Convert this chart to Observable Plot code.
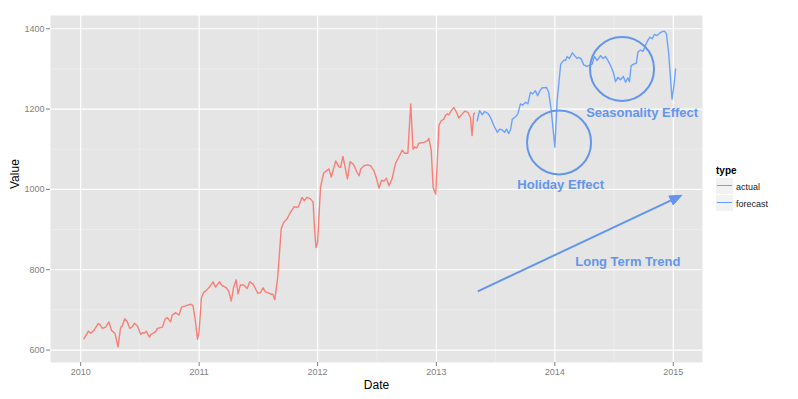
<!DOCTYPE html>
<html>
<head>
<meta charset="utf-8">
<script src="https://cdn.jsdelivr.net/npm/d3@7"></script>
<script src="https://cdn.jsdelivr.net/npm/@observablehq/plot@0.6"></script>
<style>
  html, body { margin: 0; padding: 0; background: #fff; }
  body { font-family: "Liberation Sans", Arial, sans-serif; }
  #wrap { position: relative; width: 798px; height: 399px; overflow: hidden; }
  #legend { position: absolute; left: 716px; top: 163px; font-family: "Liberation Sans", Arial, sans-serif; }
  #legend .title { font-weight: bold; font-size: 10px; color: #000; height: 15px; line-height: 15px; }
  #legend .row { display: flex; align-items: center; height: 17px; }
  #legend .key { width: 17px; height: 16px; background: #F2F2F2; position: relative; margin-right: 3px; border-bottom: 1px solid #fff; }
  #legend .key span { position: absolute; left: 1px; right: 1px; top: 7px; height: 1.4px; }
  #legend .lab { font-size: 9px; color: #1a1a1a; }
</style>
</head>
<body>
<div id="wrap"></div>
<script>
// ---------------- data ----------------
const actualDates = [
  "2010-01-11","2010-01-25","2010-02-01","2010-02-11","2010-02-24","2010-03-01","2010-03-09","2010-03-19",
  "2010-03-29","2010-04-06","2010-04-17","2010-04-26","2010-05-04","2010-05-09","2010-05-17","2010-05-25",
  "2010-06-01","2010-06-09","2010-06-16","2010-06-25","2010-07-05","2010-07-10","2010-07-17","2010-07-22",
  "2010-07-27","2010-08-01","2010-08-05","2010-08-13","2010-08-20","2010-08-25","2010-09-04","2010-09-10",
  "2010-09-18","2010-09-25","2010-10-05","2010-10-10","2010-10-21","2010-10-31","2010-11-08","2010-11-20",
  "2010-12-06","2010-12-13","2010-12-19","2010-12-27","2011-01-01","2011-01-08","2011-01-15","2011-01-26",
  "2011-02-05","2011-02-13","2011-02-20","2011-03-05","2011-03-12","2011-03-26","2011-04-02","2011-04-10",
  "2011-04-17","2011-04-25","2011-05-01","2011-05-08","2011-05-18","2011-05-29","2011-06-06","2011-06-16",
  "2011-06-23","2011-07-01","2011-07-09","2011-07-17","2011-07-24","2011-08-01","2011-08-10","2011-08-16",
  "2011-08-22","2011-08-31","2011-09-11","2011-09-18","2011-09-29","2011-10-09","2011-10-21","2011-10-27",
  "2011-11-03","2011-11-14","2011-11-21","2011-11-29","2011-12-09","2011-12-18","2011-12-23","2011-12-27",
  "2012-01-01","2012-01-10","2012-01-20","2012-02-05","2012-02-12","2012-02-26","2012-03-07","2012-03-12",
  "2012-03-19","2012-04-02","2012-04-10","2012-04-20","2012-05-02","2012-05-08","2012-05-13","2012-05-23",
  "2012-06-02","2012-06-12","2012-06-23","2012-07-01","2012-07-08","2012-07-16","2012-07-23","2012-07-31",
  "2012-08-08","2012-08-18","2012-08-28","2012-09-07","2012-09-18","2012-09-25","2012-10-05","2012-10-14",
  "2012-10-21","2012-10-26","2012-11-01","2012-11-08","2012-11-23","2012-12-04","2012-12-09","2012-12-16",
  "2012-12-22","2012-12-30","2013-01-09","2013-01-16","2013-01-24","2013-01-29","2013-02-04","2013-02-08",
  "2013-02-16","2013-02-24","2013-03-04","2013-03-11","2013-03-22","2013-03-30","2013-04-08","2013-04-16",
  "2013-04-21","2013-04-26","2013-04-29"
];
const actualValues = [
  628,647,642,649,666,664,654,657,
  670,649,641,608,656,660,678,670,
  654,658,667,660,639,643,642,647,
  639,632,639,642,646,654,656,657,
  677,681,670,687,693,687,707,710,
  714,711,681,627,647,730,743,751,
  760,770,757,770,761,755,747,722,
  755,775,740,762,762,753,770,764,
  754,741,743,755,745,743,739,739,
  725,780,902,917,927,942,957,955,
  957,980,972,980,977,969,897,855,
  868,1006,1041,1051,1031,1071,1056,1055,
  1082,1026,1069,1063,1042,1034,1051,1059,
  1061,1059,1046,1026,1003,1023,1020,1028,
  1009,1028,1065,1080,1098,1090,1090,1213,
  1100,1106,1103,1115,1117,1121,1127,1098,
  1005,988,1160,1171,1175,1184,1188,1185,
  1196,1204,1192,1178,1188,1195,1192,1179,
  1134,1188,1190
];
const forecastDates = [
  "2013-05-07","2013-05-14","2013-05-22","2013-05-30","2013-06-09","2013-06-17","2013-06-27","2013-07-08",
  "2013-07-15","2013-07-23","2013-07-30","2013-08-05","2013-08-12","2013-08-18","2013-08-23","2013-09-02",
  "2013-09-09","2013-09-17","2013-09-24","2013-10-03","2013-10-10","2013-10-18","2013-10-25","2013-11-02",
  "2013-11-09","2013-11-16","2013-11-23","2013-11-30","2013-12-06","2013-12-13","2013-12-21","2014-01-01",
  "2014-01-08","2014-01-19","2014-01-29","2014-02-03","2014-02-08","2014-02-15","2014-02-24","2014-03-03",
  "2014-03-11","2014-03-16","2014-03-23","2014-03-31","2014-04-11","2014-04-19","2014-04-26","2014-05-03",
  "2014-05-11","2014-05-22","2014-05-30","2014-06-06","2014-06-13","2014-06-22","2014-06-30","2014-07-07",
  "2014-07-14","2014-07-22","2014-07-31","2014-08-07","2014-08-14","2014-08-19","2014-08-24","2014-09-01",
  "2014-09-09","2014-09-14","2014-09-22","2014-09-30","2014-10-07","2014-10-13","2014-10-21","2014-10-28",
  "2014-11-04","2014-11-12","2014-11-20","2014-11-28","2014-12-05","2014-12-11","2014-12-18","2014-12-28",
  "2015-01-03","2015-01-08"
];
const forecastValues = [
  1171,1196,1186,1194,1189,1179,1159,1142,
  1150,1148,1142,1150,1139,1150,1175,1181,
  1188,1213,1210,1217,1213,1242,1238,1246,
  1233,1246,1253,1253,1254,1242,1196,1105,
  1220,1312,1322,1321,1331,1326,1340,1333,
  1326,1329,1325,1310,1306,1310,1312,1331,
  1321,1333,1326,1331,1322,1308,1292,1268,
  1279,1273,1281,1267,1278,1268,1308,1312,
  1314,1342,1347,1344,1358,1369,1379,1375,
  1386,1383,1389,1393,1394,1387,1337,1225,
  1258,1300
];
const types = ["actual", "forecast"];
const typeColors = ["#F8766D", "#619CFF"];

const xTickLabels = ["2010", "2011", "2012", "2013", "2014", "2015"];
const xMinorDates = ["2010-07-02", "2011-07-02", "2012-07-02", "2013-07-02", "2014-07-02"];
const yTicks = [600, 800, 1000, 1200, 1400];
const yMinor = [700, 900, 1100, 1300];

// annotations
const circleDates = ["2014-01-14", "2014-07-27"];
const circleValues = [1117, 1300];
const noteLabels = ["Holiday Effect", "Seasonality Effect", "Long Term Trend"];
const noteDates = ["2014-01-19", "2014-09-27", "2014-08-14"];
const noteValues = [1011, 1190, 820];
const trendFrom = { date: "2013-05-10", value: 745 };
const trendTo = { date: "2015-01-29", value: 984 };
const xDomain = ["2009-09-30", "2015-04-01"];
const yDomain = [569, 1433];

// ---------------- build ----------------
const parse = d3.utcParse("%Y-%m-%d");
const data = [
  ...actualDates.map((d, i) => ({ date: parse(d), value: actualValues[i], type: types[0] })),
  ...forecastDates.map((d, i) => ({ date: parse(d), value: forecastValues[i], type: types[1] }))
];
const yearDates = xTickLabels.map(y => parse(y + "-01-01"));
const minorDates = xMinorDates.map(parse);
const circles = circleDates.map((d, i) => ({ date: parse(d), value: circleValues[i] }));
const notes = noteLabels.map((t, i) => ({ label: t, date: parse(noteDates[i]), value: noteValues[i] }));
const annColor = "#6495ED";
const fontFam = "Liberation Sans, Arial, sans-serif";

function trendArrow(index, scales) {
  const x1 = scales.x(parse(trendFrom.date)), y1 = scales.y(trendFrom.value);
  const x2 = scales.x(parse(trendTo.date)), y2 = scales.y(trendTo.value);
  const dx = x2 - x1, dy = y2 - y1, len = Math.hypot(dx, dy);
  const ux = dx / len, uy = dy / len, nx = -uy, ny = ux;
  const L = 12, W = 5;
  const bx = x2 - ux * L, by = y2 - uy * L;
  const g = d3.create("svg:g");
  g.append("line").attr("x1", x1).attr("y1", y1).attr("x2", bx).attr("y2", by)
    .attr("stroke", annColor).attr("stroke-width", 2);
  g.append("polygon")
    .attr("points", `${x2},${y2} ${bx + nx * W},${by + ny * W} ${bx - nx * W},${by - ny * W}`)
    .attr("fill", annColor).attr("stroke", annColor).attr("stroke-width", 1);
  return g.node();
}

const chart = Plot.plot({
  width: 798,
  height: 399,
  marginTop: 15,
  marginBottom: 37,
  marginLeft: 50,
  marginRight: 96,
  style: { fontFamily: fontFam, background: "white" },
  x: { type: "utc", domain: xDomain.map(parse) },
  y: { domain: yDomain },
  color: { domain: types, range: typeColors },
  marks: [
    Plot.frame({ fill: "#E5E5E5", stroke: null }),
    Plot.ruleX(minorDates, { stroke: "#F2F2F2", strokeWidth: 0.6 }),
    Plot.ruleY(yMinor, { stroke: "#F2F2F2", strokeWidth: 0.6 }),
    Plot.ruleX(yearDates, { stroke: "#FFFFFF", strokeWidth: 1.2 }),
    Plot.ruleY(yTicks, { stroke: "#FFFFFF", strokeWidth: 1.2 }),
    Plot.axisX(yearDates, { tickFormat: d3.utcFormat("%Y"), tickSize: 4, tickPadding: 2, fontSize: 9, color: "#7F7F7F", label: null }),
    Plot.axisY(yTicks, { tickFormat: d => String(d), tickSize: 4, tickPadding: 2, fontSize: 9, color: "#7F7F7F", label: null }),
    Plot.text(["Date"], { frameAnchor: "bottom", dy: 23, lineAnchor: "middle", fontSize: 12, fill: "#000" }),
    Plot.text(["Value"], { frameAnchor: "left", dx: -35, rotate: -90, lineAnchor: "middle", fontSize: 12, fill: "#000" }),
    Plot.line(data, { x: "date", y: "value", stroke: "type", z: "type", strokeWidth: 1.4, strokeOpacity: 0.92 }),
    Plot.dot(circles, { x: "date", y: "value", r: 32, stroke: annColor, strokeWidth: 2, fill: "none" }),
    Plot.text(notes, { x: "date", y: "value", text: "label", fill: annColor, fontWeight: "bold", fontSize: 13 }),
    trendArrow
  ]
});

const wrap = document.getElementById("wrap");
wrap.appendChild(chart);

// legend
const leg = document.createElement("div");
leg.id = "legend";
leg.innerHTML = `<div class="title">type</div>` + types.map((t, i) =>
  `<div class="row"><div class="key"><span style="background:${typeColors[i]}"></span></div><div class="lab">${t}</div></div>`
).join("");
wrap.appendChild(leg);
</script>
</body>
</html>
